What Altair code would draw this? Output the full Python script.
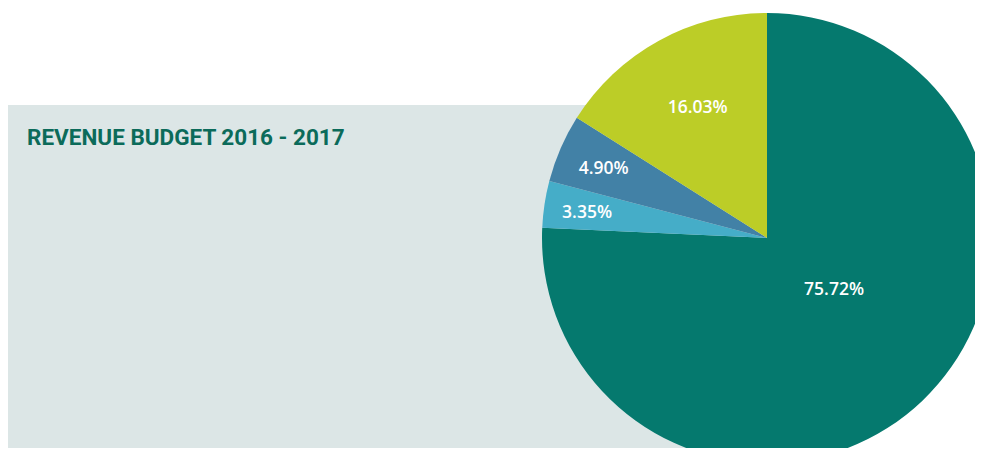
import altair as alt
import pandas as pd

# ---- data ----
labels = ["75.72%", "3.35%", "4.90%", "16.03%"]
values = [75.72, 3.35, 4.90, 16.03]
slice_order = [0, 1, 2, 3]
colors = ["#05796E", "#45ADC8", "#4281A6", "#BCCD27"]
title_text = "REVENUE BUDGET 2016 - 2017"

df = pd.DataFrame({"label": labels, "value": values, "ord": slice_order})
total = float(sum(values))

# ---- layout (pixels, in chart coordinates) ----
W, H = 967, 440
CX, CY, R = 759, 230, 225
theta_scale = alt.Scale(domain=[0, total])

panel = alt.Chart(pd.DataFrame({"k": [0]})).mark_rect(color="#DCE6E6").encode(
    x=alt.value(0), x2=alt.value(CX), y=alt.value(97), y2=alt.value(H)
)

title = alt.Chart(pd.DataFrame({"t": [title_text]})).mark_text(
    align="left", baseline="alphabetic", font="Roboto", fontSize=22.5,
    fontWeight=700, color="#0B6B5A"
).encode(text="t:N", x=alt.value(19), y=alt.value(137))

pie = alt.Chart(df).mark_arc(radius=R, stroke=None).encode(
    theta=alt.Theta("value:Q", stack=True, scale=theta_scale),
    order=alt.Order("ord:Q"),
    color=alt.Color("label:N", scale=alt.Scale(domain=labels, range=colors), legend=None),
    x=alt.value(CX), y=alt.value(CY),
)

base_txt = alt.Chart(df).transform_window(
    v1="sum(value)", sort=[alt.SortField("ord")]
).transform_calculate(mid="datum.v1 - datum.value / 2")

# label placement: radius, dx, dy
placement = {
    "75.72%": (84, 9, -9),
    "3.35%": (184, 2, 3),
    "4.90%": (178, 0, 2),
    "16.03%": (150, 3, 1),
}

text_layers = []
for lab in labels:
    r, dx, dy = placement[lab]
    text_layers.append(
        base_txt.transform_filter(alt.datum.label == lab).mark_text(
            radius=r, dx=dx, dy=dy, font="Open Sans", fontSize=17.5,
            fontWeight=600, color="white", align="center", baseline="middle"
        ).encode(
            theta=alt.Theta("mid:Q", scale=theta_scale),
            text="label:N",
            x=alt.value(CX), y=alt.value(CY),
        )
    )

chart = alt.layer(panel, title, pie, *text_layers).properties(
    width=W, height=H, autosize=alt.AutoSizeParams(type="none"), padding=0
).configure_view(strokeWidth=0)

chart.save("out.html", embed_options={"renderer": "svg", "actions": False})
